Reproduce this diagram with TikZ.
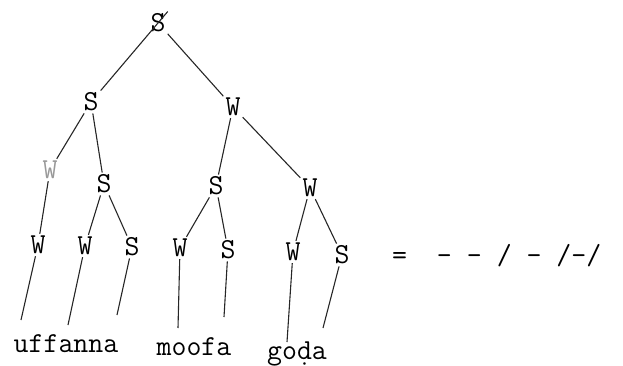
\documentclass[tikz,border=0pt]{standalone}
\usepackage{tikz}
\begin{document}
\begin{tikzpicture}[x=1pt,y=-1pt,line join=bevel,
  tw/.style={font=\fontsize{29}{30}\selectfont\ttfamily,inner sep=2pt},
  br/.style={black!85,line width=1.1pt}]
\useasboundingbox (0,0) rectangle (623,366);
%%
\node (node_0) at (158,23) [tw] {S};
  \node (node_1) at (91,102) [tw] {S};
  \node (node_2) at (233,107) [tw] {W};
  \node (node_3) at (50,170) [tw,black!40] {W};
  \node (node_4) at (104,184) [tw] {S};
  \node (node_5) at (216,186) [tw] {S};
  \node (node_6) at (310,188) [tw] {W};
  \node (node_7) at (38,245) [tw] {W};
  \node (node_8) at (85,246) [tw] {W};
  \node (node_9) at (132,247) [tw] {S};
  \node (node_10) at (180,248) [tw] {W};
  \node (node_11) at (228,250) [tw] {S};
  \node (node_12) at (293,252) [tw] {W};
  \node (node_13) at (342,255) [tw] {S};
  \node (word_0) at (66,352) [tw,anchor=base] {uffanna};
  \node (word_1) at (194,355) [tw,anchor=base] {moofa};
  \node (word_2) at (297,359) [tw,anchor=base] {go\d{d}a};
  \node (metre) at (390,256) [tw,anchor=west] {=\ \ - - / - /-/};
  \coordinate (end_1) at (21,320);
  \coordinate (end_2) at (68,325);
  \coordinate (end_3) at (117,315);
  \coordinate (end_4) at (178,328);
  \coordinate (end_5) at (224,317);
  \coordinate (end_6) at (287,342);
  \coordinate (end_7) at (323,328);
  \draw [br] (node_1) -- (node_0.north east);
  \draw [br] (node_0) -- (node_2);
  \draw [br] (node_1) -- (node_3);
  \draw [br] (node_1) -- (node_4);
  \draw [br] (node_2) -- (node_5);
  \draw [br] (node_2) -- (node_6);
  \draw [br] (node_3) -- (node_7);
  \draw [br] (node_4) -- (node_8);
  \draw [br] (node_4) -- (node_9);
  \draw [br] (node_5) -- (node_10);
  \draw [br] (node_5) -- (node_11);
  \draw [br] (node_6) -- (node_12);
  \draw [br] (node_6) -- (node_13);
  \draw [br] (node_7) -- (end_1);
  \draw [br] (node_8) -- (end_2);
  \draw [br] (node_9) -- (end_3);
  \draw [br] (node_10) -- (end_4);
  \draw [br] (node_11) -- (end_5);
  \draw [br] (node_12) -- (end_6);
  \draw [br] (node_13) -- (end_7);
%
\end{tikzpicture}
\end{document}
